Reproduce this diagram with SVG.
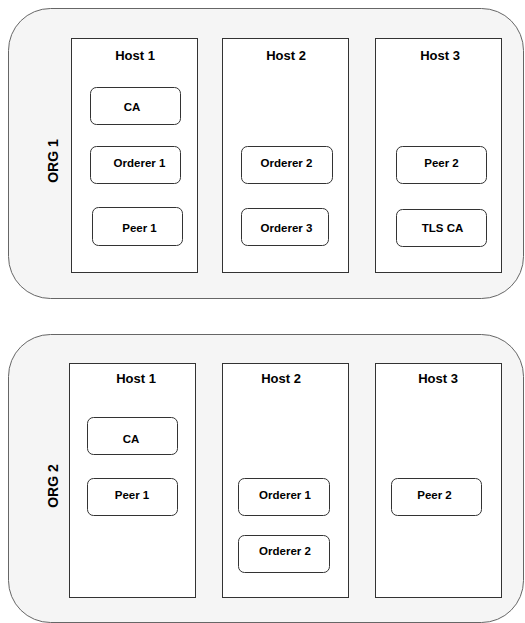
<svg xmlns="http://www.w3.org/2000/svg" width="525" height="623" viewBox="0 0 525 623">
<style>
.org{fill:#f5f5f5;stroke:#666666;stroke-width:1}
.host{fill:#ffffff;stroke:#333333;stroke-width:1}
.box{fill:#ffffff;stroke:#333333;stroke-width:1}
text{font-family:"Liberation Sans",Arial,Helvetica,sans-serif;font-weight:bold;fill:#000000;text-anchor:middle}
.ht{font-size:13px}
.bt{font-size:11.5px}
.ot{font-size:14px}
</style>
<rect width="525" height="623" fill="#ffffff"/>
<g id="org1">
<rect class="org" x="8.5" y="8.5" width="515" height="290" rx="42" ry="42"/>
<text class="ot" transform="translate(58,161) rotate(-90)">ORG 1</text>
</g>
<g id="org1-host1">
<rect class="host" x="71.5" y="38.5" width="126" height="234"/>
<text class="ht" x="135" y="60">Host 1</text>
</g>
<g id="org1-host2">
<rect class="host" x="222.5" y="38.5" width="126" height="234"/>
<text class="ht" x="286" y="60">Host 2</text>
</g>
<g id="org1-host3">
<rect class="host" x="375.5" y="38.5" width="126" height="234"/>
<text class="ht" x="440" y="60">Host 3</text>
</g>
<g id="org1-ca">
<rect class="box" x="90.5" y="87.5" width="90" height="37" rx="6"/>
<text class="bt" x="132" y="111">CA</text>
</g>
<g id="org1-orderer1">
<rect class="box" x="90.5" y="146.5" width="90" height="37" rx="6"/>
<text class="bt" x="139.5" y="167">Orderer 1</text>
</g>
<g id="org1-peer1">
<rect class="box" x="92.5" y="207.5" width="90" height="38" rx="6"/>
<text class="bt" x="139.5" y="232">Peer 1</text>
</g>
<g id="org1-orderer2">
<rect class="box" x="241.5" y="146.5" width="91" height="37" rx="6"/>
<text class="bt" x="286.5" y="167">Orderer 2</text>
</g>
<g id="org1-orderer3">
<rect class="box" x="241.5" y="208.5" width="87" height="37" rx="6"/>
<text class="bt" x="286.5" y="232">Orderer 3</text>
</g>
<g id="org1-peer2">
<rect class="box" x="396.5" y="146.5" width="90" height="37" rx="6"/>
<text class="bt" x="441.5" y="167">Peer 2</text>
</g>
<g id="org1-tlsca">
<rect class="box" x="396.5" y="209.5" width="90" height="37" rx="6"/>
<text class="bt" x="442.5" y="232">TLS CA</text>
</g>
<g id="org2">
<rect class="org" x="8.5" y="334.5" width="515" height="288" rx="42" ry="42"/>
<text class="ot" transform="translate(58,486) rotate(-90)">ORG 2</text>
</g>
<g id="org2-host1">
<rect class="host" x="69.5" y="363.5" width="126" height="234"/>
<text class="ht" x="136" y="383">Host 1</text>
</g>
<g id="org2-host2">
<rect class="host" x="222.5" y="363.5" width="126" height="234"/>
<text class="ht" x="281" y="383">Host 2</text>
</g>
<g id="org2-host3">
<rect class="host" x="375.5" y="363.5" width="126" height="234"/>
<text class="ht" x="438" y="383">Host 3</text>
</g>
<g id="org2-ca">
<rect class="box" x="87.5" y="417.5" width="90" height="37" rx="6"/>
<text class="bt" x="131" y="443">CA</text>
</g>
<g id="org2-peer1">
<rect class="box" x="87.5" y="478.5" width="90" height="37" rx="6"/>
<text class="bt" x="132" y="499">Peer 1</text>
</g>
<g id="org2-orderer1">
<rect class="box" x="238.5" y="478.5" width="91" height="37" rx="6"/>
<text class="bt" x="285" y="499">Orderer 1</text>
</g>
<g id="org2-orderer2">
<rect class="box" x="238.5" y="535.5" width="91" height="37" rx="6"/>
<text class="bt" x="285" y="555">Orderer 2</text>
</g>
<g id="org2-peer2">
<rect class="box" x="391.5" y="478.5" width="90" height="37" rx="6"/>
<text class="bt" x="434.5" y="499">Peer 2</text>
</g>
<g id="connectors"></g>
</svg>
